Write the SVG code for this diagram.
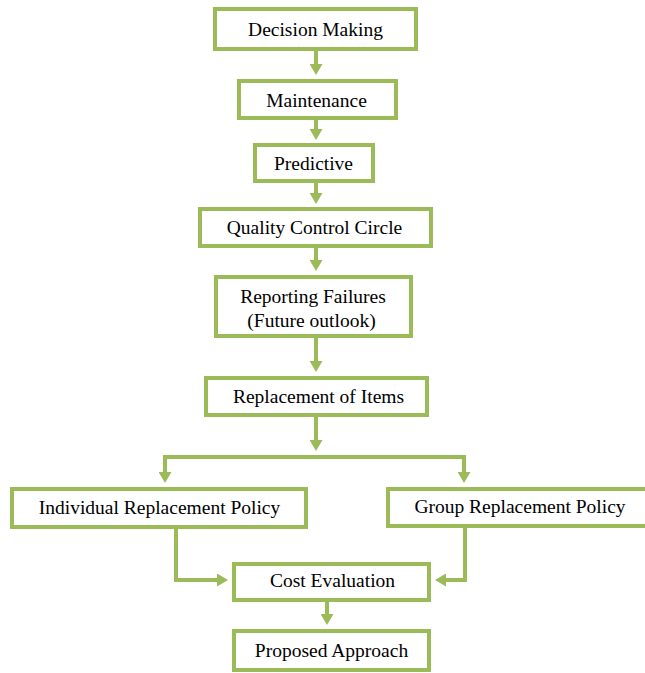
<svg xmlns="http://www.w3.org/2000/svg" width="645" height="673" viewBox="0 0 645 673">
<style>
.box{fill:#fff;stroke:#9BBB59;stroke-width:4}
.lbl{font-family:"Liberation Serif","Times New Roman",serif;font-size:19.5px;fill:#000;text-anchor:middle}
.con{fill:none;stroke:#9BBB59;stroke-width:4;marker-end:url(#ah)}
</style>
<defs>
<marker id="ah" markerUnits="userSpaceOnUse" markerWidth="11" markerHeight="13" refX="7" refY="6.5" orient="auto">
<path d="M0,0 L11,6.5 L0,13 z" fill="#9BBB59"/>
</marker>
</defs>
<rect width="645" height="673" fill="#fff"/>
<g id="connectors">
<path class="con" d="M316,50 V71"/>
<path class="con" d="M316,119 V136"/>
<path class="con" d="M316,183 V200"/>
<path class="con" d="M316,248 V267"/>
<path class="con" d="M316,338 V368"/>
<path class="con" d="M316,417 V447"/>
<path class="con" d="M316,457 H165 V479"/>
<path class="con" d="M316,457 H464 V479"/>
<path class="con" d="M176,529 V580 H224"/>
<path class="con" d="M465,527 V580 H439"/>
<path class="con" d="M327,601 V621"/>
</g>
<g id="decision-making"><rect class="box" x="215" y="9" width="201" height="40"/><text class="lbl" x="315.5" y="36">Decision Making</text></g>
<g id="maintenance"><rect class="box" x="239" y="81" width="157" height="37"/><text class="lbl" x="316.5" y="107">Maintenance</text></g>
<g id="predictive"><rect class="box" x="255" y="145" width="118" height="36"/><text class="lbl" x="313.5" y="170">Predictive</text></g>
<g id="quality-control-circle"><rect class="box" x="200" y="209" width="231" height="37"/><text class="lbl" x="314.5" y="234">Quality Control Circle</text></g>
<g id="reporting-failures"><rect class="box" x="216" y="277" width="195" height="59"/><text class="lbl" x="313" y="303">Reporting Failures</text><text class="lbl" x="311.5" y="327">(Future outlook)</text></g>
<g id="replacement-of-items"><rect class="box" x="206" y="378" width="221" height="37"/><text class="lbl" x="318.5" y="403">Replacement of Items</text></g>
<g id="individual-replacement-policy"><rect class="box" x="12" y="489" width="294" height="38"/><text class="lbl" x="159.5" y="514">Individual Replacement Policy</text></g>
<g id="group-replacement-policy"><rect class="box" x="388" y="489" width="264" height="37"/><text class="lbl" x="520" y="513">Group Replacement Policy</text></g>
<g id="cost-evaluation"><rect class="box" x="234" y="564" width="195" height="36"/><text class="lbl" x="332.5" y="587">Cost Evaluation</text></g>
<g id="proposed-approach"><rect class="box" x="234" y="631" width="195" height="39"/><text class="lbl" x="331.5" y="657">Proposed Approach</text></g>
</svg>
